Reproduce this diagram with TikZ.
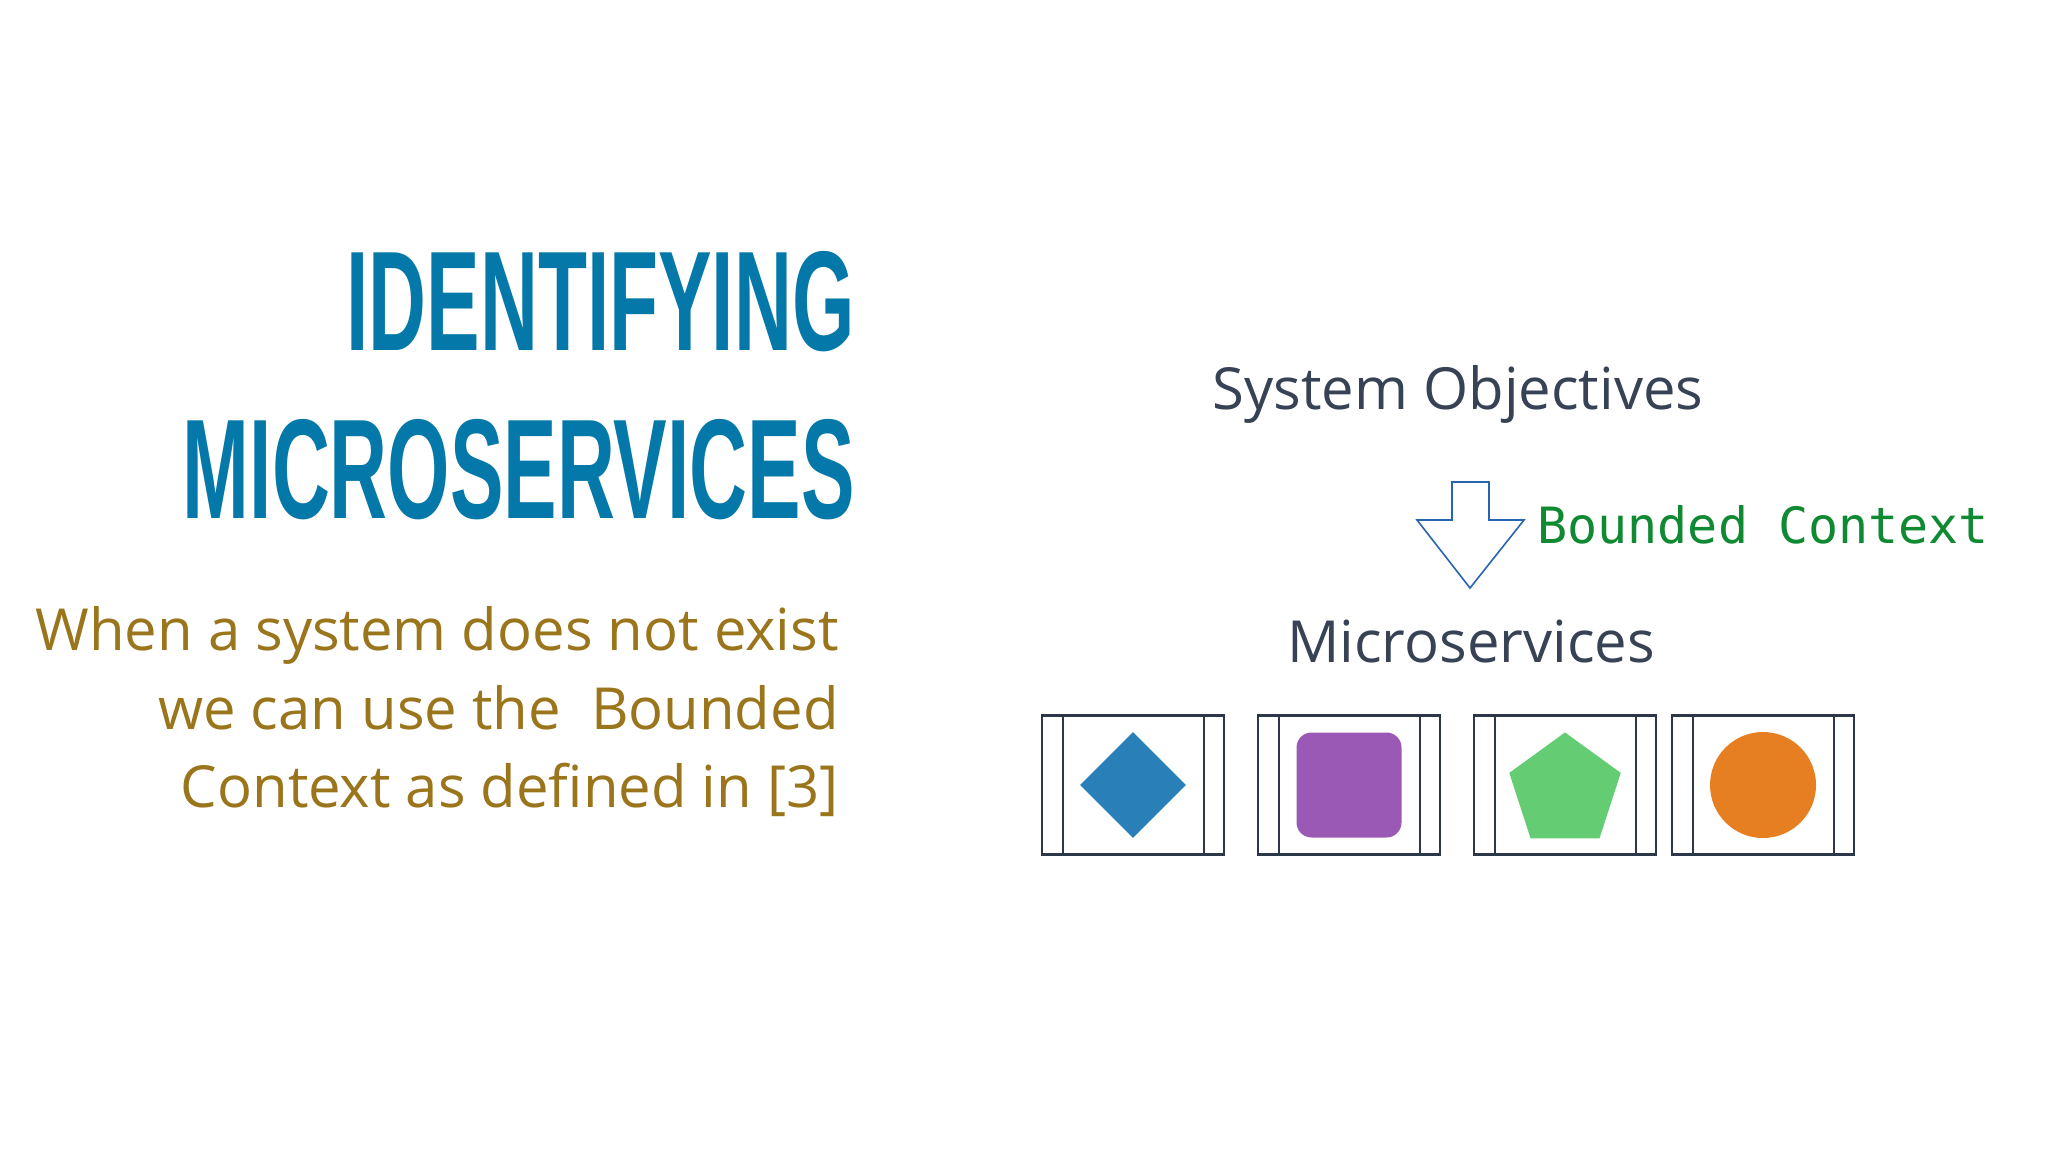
\documentclass[tikz,border=0pt]{standalone}
\usepackage{fontspec}
\setmainfont{Open Sans}
\setmonofont{DejaVu Sans Mono}
\newfontfamily\titlefont{Liberation Sans}[FakeStretch=0.565]
\definecolor{msblue}{RGB}{4,120,168}
\definecolor{msgold}{RGB}{154,117,28}
\definecolor{msgreen}{RGB}{16,138,50}
\definecolor{msdark}{RGB}{55,66,84}
\definecolor{msframe}{RGB}{44,56,74}
\definecolor{msarrow}{RGB}{40,100,175}
\definecolor{shdiamond}{RGB}{41,128,185}
\definecolor{shpurple}{RGB}{155,89,182}
\definecolor{shgreen}{RGB}{100,204,114}
\definecolor{shorange}{RGB}{230,126,34}
\usetikzlibrary{positioning,shapes.geometric}

\begin{document}
\begin{tikzpicture}[x=0.5pt,y=-0.5pt,
    title/.style={font=\titlefont\bfseries\fontsize{71}{71}\selectfont,text=msblue,anchor=base east,inner sep=0pt},
    para/.style={font=\fontsize{29}{29}\selectfont,text=msgold,anchor=base east,inner sep=0pt},
    heading/.style={font=\fontsize{29}{29}\selectfont,text=msdark,anchor=base,inner sep=0pt},
    monotext/.style={font=\ttfamily\fontsize{25}{25}\selectfont,text=msgreen,anchor=base west,inner sep=0pt},
    svcbox/.style={draw=msframe,line width=1.1pt,minimum width=91pt,minimum height=69.5pt,inner sep=0pt},
    blockarrow/.style={draw=msarrow,line width=0.8pt,fill=white,line join=miter}]
  \fill[white] (0,0) rectangle (2048,1152);
  \useasboundingbox (0,0) rectangle (2048,1152);

  % left: title and text
  \node[title] (title1) at (855,350) {IDENTIFYING};
  \node[title] (title2) at (855,518) {MICROSERVICES};
  \node[para] (line1) at (839,650) {When a system does not exist};
  \node[para] (line2) at (839,729) {we can use the\ \ Bounded};
  \node[para] (line3) at (839,807) {Context as defined in [3]};

  % right: objectives -> microservices
  \node[heading] (objectives) at (1458,409) {System Objectives};
  \draw[blockarrow] (1452,482) -- (1489,482) -- (1489,520) -- (1524,520)
    -- (1470,588) -- (1417,520) -- (1452,520) -- cycle;
  \node[monotext] (bounded) at (1537,543) {Bounded Context};
  \node[heading] (micro) at (1471,662) {Microservices};

  % services
  \foreach \n/\x in {svcA/1133,svcB/1349,svcC/1565,svcD/1763} {
    \node[svcbox] (\n) at (\x,785) {};
    \draw[msframe,line width=1.1pt] ([xshift=11pt]\n.north west) -- ([xshift=11pt]\n.south west);
    \draw[msframe,line width=1.1pt] ([xshift=-10.5pt]\n.north east) -- ([xshift=-10.5pt]\n.south east);
  }
  \node[diamond,fill=shdiamond,minimum width=53pt,minimum height=53pt,inner sep=0pt] (shapeA) at (svcA) {};
  \node[rectangle,rounded corners=7.5pt,fill=shpurple,minimum size=52.5pt,inner sep=0pt] (shapeB) at (svcB) {};
  \node[regular polygon,regular polygon sides=5,fill=shgreen,minimum size=58.6pt,inner sep=0pt] (shapeC) at ([yshift=-3pt]svcC.center) {};
  \node[circle,fill=shorange,minimum size=53pt,inner sep=0pt] (shapeD) at (svcD) {};
\end{tikzpicture}
\end{document}
